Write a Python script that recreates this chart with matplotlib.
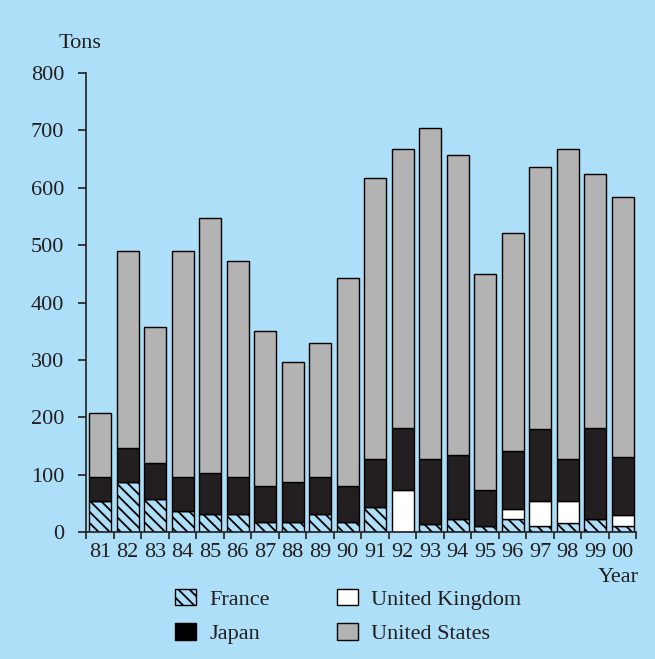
import numpy as np
import matplotlib
matplotlib.use("Agg")
import matplotlib.pyplot as plt
from matplotlib.patches import Patch

years = ["81", "82", "83", "84", "85", "86", "87", "88", "89", "90",
         "91", "92", "93", "94", "95", "96", "97", "98", "99", "00"]
france = [54, 88, 58, 36, 32, 32, 18, 18, 32, 18,
          44, 0, 14, 22, 11, 22, 11, 15, 22, 11]
uk = [0, 0, 0, 0, 0, 0, 0, 0, 0, 0,
      0, 73, 0, 0, 0, 18, 43, 39, 0, 18]
japan = [41, 58, 63, 59, 70, 63, 62, 70, 63, 62,
         83, 109, 114, 113, 62, 102, 125, 73, 160, 102]
total = [208, 490, 358, 490, 548, 472, 351, 296, 329, 442,
         617, 668, 705, 657, 450, 522, 636, 668, 624, 584]

bg = "#ADDFF8"
txt = "#231F20"
plt.rcParams["font.family"] = ["Liberation Serif", "DejaVu Serif"]
plt.rcParams["hatch.linewidth"] = 1.3

france = np.array(france)
uk = np.array(uk)
japan = np.array(japan)
us = np.array(total) - france - uk - japan
x = np.arange(len(years))

fig = plt.figure(figsize=(6.55, 6.59), dpi=100, facecolor=bg)
ax = fig.add_axes([86.25 / 655, 1 - 532 / 659, 550 / 655, 459 / 659], facecolor=bg)

w = 0.8
kw = dict(width=w, edgecolor="black", linewidth=1.0)
ax.bar(x, france, facecolor=bg, hatch="\\\\\\", **kw)
ax.bar(x, uk, bottom=france, facecolor="white", **kw)
ax.bar(x, japan, bottom=france + uk, facecolor=txt, **kw)
ax.bar(x, us, bottom=france + uk + japan, facecolor="#B3B3B3", **kw)

ax.set_xlim(-0.5, 19.5)
ax.set_ylim(0, 800)
ax.set_yticks(range(0, 801, 100))
ax.set_xticks(x)
ax.set_xticklabels(years)
ax.set_xticks(np.arange(-0.5, 20, 1), minor=True)
ax.tick_params(axis="x", which="major", length=0, labelsize=16, colors=txt, pad=8)
ax.tick_params(axis="x", which="minor", length=5, width=1.2, direction="out", color=txt)
ax.tick_params(axis="y", length=6, width=1.2, direction="out", labelsize=16, colors=txt, pad=10)
for s in ["top", "right"]:
    ax.spines[s].set_visible(False)
for s in ["left", "bottom"]:
    ax.spines[s].set_color(txt)
    ax.spines[s].set_linewidth(1.2)

fig.text(80 / 655, 1 - 43 / 659, "Tons", fontsize=16, color=txt, ha="center", va="center")
fig.text(618 / 655, 1 - 577 / 659, "Year", fontsize=16, color=txt, ha="center", va="center")

handles = [
    Patch(facecolor=bg, edgecolor="black", hatch="\\\\\\", label="France"),
    Patch(facecolor="black", edgecolor="black", label="Japan"),
    Patch(facecolor="white", edgecolor="black", label="United Kingdom"),
    Patch(facecolor="#B3B3B3", edgecolor="black", label="United States"),
]
leg = fig.legend(handles=handles, ncol=2, loc="upper left",
                 bbox_to_anchor=(175 / 655, 1 - 589 / 659), frameon=False,
                 fontsize=16, handlelength=0.95, handleheight=0.75,
                 handletextpad=0.6, columnspacing=3.0, labelspacing=0.6,
                 borderpad=0, borderaxespad=0)
for t in leg.get_texts():
    t.set_color(txt)

fig.savefig("out.png", dpi=100, facecolor=bg)
